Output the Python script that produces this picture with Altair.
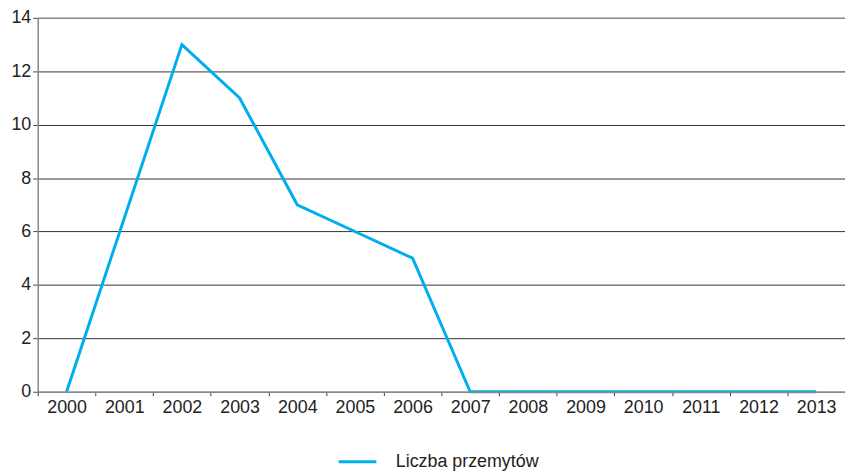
import altair as alt
import pandas as pd

years = [str(y) for y in range(2000, 2014)]
values = [0, 6.5, 13, 11, 7, 6, 5, 0, 0, 0, 0, 0, 0, 0]
series = "Liczba przemytów"

df = pd.DataFrame({"rok": years, "wartosc": values, "seria": [series] * len(years)})

chart = alt.Chart(df).mark_line(strokeWidth=3, strokeJoin="miter").encode(
    x=alt.X("rok:O", title=None, sort=years,
            scale=alt.Scale(type="band", paddingInner=0, paddingOuter=0),
            axis=alt.Axis(labelAngle=0, labelFontSize=18, labelColor="#222",
                          labelFont="Liberation Sans", tickSize=4, tickColor="#444",
                          tickBand="extent", domainColor="#888", domainWidth=1.5,
                          labelPadding=3, grid=False, zindex=1)),
    y=alt.Y("wartosc:Q", title=None,
            scale=alt.Scale(domain=[0, 14], nice=False),
            axis=alt.Axis(values=list(range(0, 15, 2)), labelFontSize=18, labelColor="#222",
                          labelFont="Liberation Sans", tickSize=5, tickColor="#444",
                          domainColor="#888", domainWidth=1.5, labelPadding=2,
                          gridColor=alt.condition("datum.value == 14", alt.value("#888"), alt.value("#333")),
                          gridWidth=alt.condition("datum.value == 14", alt.value(1.5), alt.value(1)))),
    color=alt.Color("seria:N", title=None,
                    scale=alt.Scale(range=["#00AEEF"]),
                    legend=alt.Legend(orient="none", legendX=302, legendY=427,
                                      direction="horizontal",
                                      symbolType="stroke", symbolSize=1444, symbolStrokeWidth=3,
                                      labelFontSize=18, labelColor="#222", labelLimit=400,
                                      labelFont="Liberation Sans",
                                      labelOffset=18)),
).properties(
    width=814, height=377,
    padding={"left": 30, "top": 8, "right": 0, "bottom": 82},
    autosize=alt.AutoSizeParams(type="none"),
).configure_view(stroke=None)

chart.save("out.html", embed_options={"renderer": "svg", "actions": False})
